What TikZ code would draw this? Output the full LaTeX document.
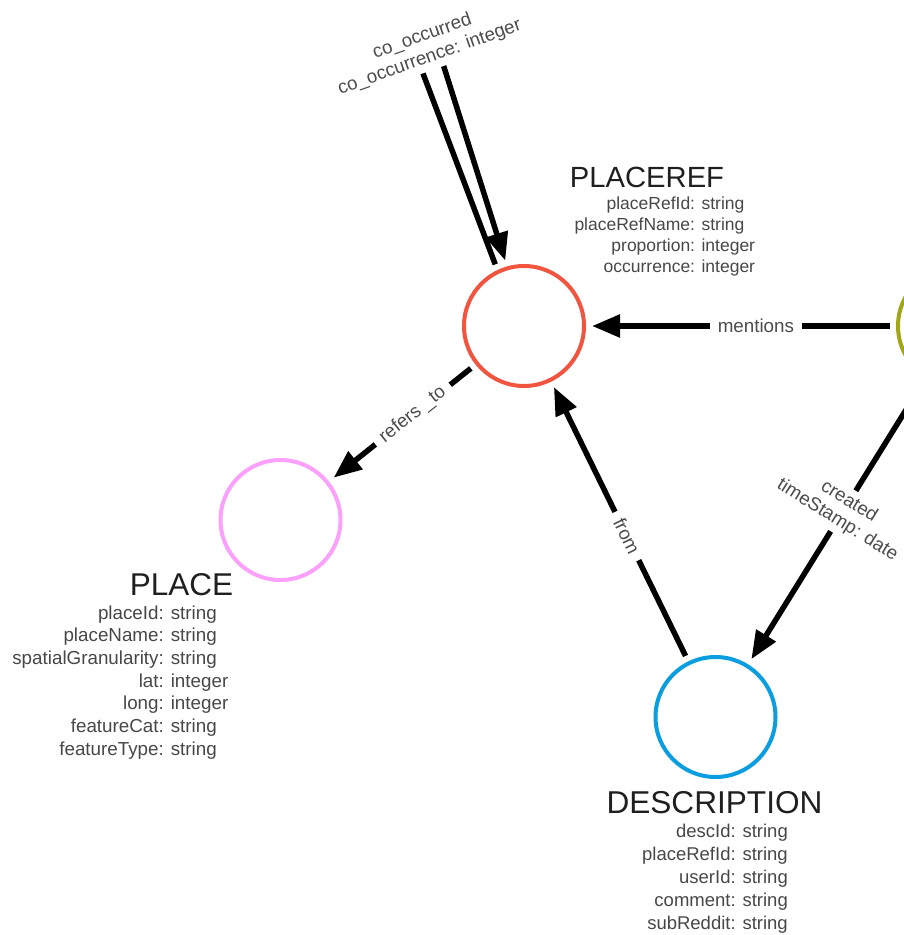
\documentclass[tikz,border=0pt]{standalone}
\usepackage{fontspec}
\setmainfont{Liberation Sans}
\usetikzlibrary{arrows.meta}

\definecolor{refred}{HTML}{F2553F}
\definecolor{placepink}{HTML}{FBA1FB}
\definecolor{descblue}{HTML}{0A9DDF}
\definecolor{userolive}{HTML}{9FA618}

\begin{document}
\begin{tikzpicture}[x=1pt, y=-1pt,
    entity/.style={draw, circle, line width=4pt, minimum size=120pt, inner sep=0pt, outer sep=8pt},
    rel/.style={line width=5.5pt, -{Triangle[length=28pt, width=22pt]}},
    rellabel/.style={fill=white, text=black!70, align=center, inner xsep=8pt, inner ysep=4pt,
        font=\fontsize{18.8}{22}\selectfont},
    title/.style={anchor=base, inner sep=0pt, text=black!88, font=\fontsize{#1}{#1}\selectfont},
    props/.style 2 args={anchor=base east, inner sep=0pt, text=black!72, font=\fontsize{#1}{#2}\selectfont}]
    \useasboundingbox (0,0) rectangle (904,935);
    \clip (0,0) rectangle (904,935);

    % Nodes
    \node [entity, refred] (pr) at (524,326) {};
    \node [entity, placepink] (pl) at (280.5,520) {};
    \node [entity, descblue] (de) at (715.5,717) {};
    \node [entity, userolive] (ol) at (958,326) {};

    % Relationships
    \draw [rel] (ol) -- node [rellabel, pos=0.45, sloped] (mnlabel) {mentions} (pr);
    \draw [rel] (pr) -- node [rellabel, pos=0.423, sloped] (rtlabel) {refers \_to} (pl);
    \draw [rel] (de) -- node [rellabel, pos=0.446, sloped] (frlabel) {from} (pr);
    \draw [rel] (ol) -- node [rellabel, pos=0.462, rotate=-32] (crlabel) {created\\timeStamp: date} (de);

    % Self loop
    \coordinate (coL) at (416,55);
    \coordinate (coR) at (437,45);
    \draw [rel] (pr.115) -- (coL) -- (coR) -- (pr.106);
    \node [rellabel, rotate=19.5] (colabel) at (426,47) {co\_occurred\\co\_occurrence: integer};

    % Labels
    \node [title=29.2] (prtitle) at (647,187) {PLACEREF};
    \node [props={17.5}{21.3}] (prprops) at (755.3,209) {\begin{tabular}[t]{@{}r@{: }l@{}}
        placeRefId & string\\ placeRefName & string\\ proportion & integer\\ occurrence & integer
    \end{tabular}};
    \node [title=31.5] (pltitle) at (181.5,595) {PLACE};
    \node [props={18.8}{22.7}] (plprops) at (228.5,619) {\begin{tabular}[t]{@{}r@{: }l@{}}
        placeId & string\\ placeName & string\\ spatialGranularity & string\\ lat & integer\\
        long & integer\\ featureCat & string\\ featureType & string
    \end{tabular}};
    \node [title=31.6] (detitle) at (714.5,813) {DESCRIPTION};
    \node [props={18.5}{23}] (deprops) at (788,837) {\begin{tabular}[t]{@{}r@{: }l@{}}
        descId & string\\ placeRefId & string\\ userId & string\\ comment & string\\ subReddit & string
    \end{tabular}};
\end{tikzpicture}
\end{document}
